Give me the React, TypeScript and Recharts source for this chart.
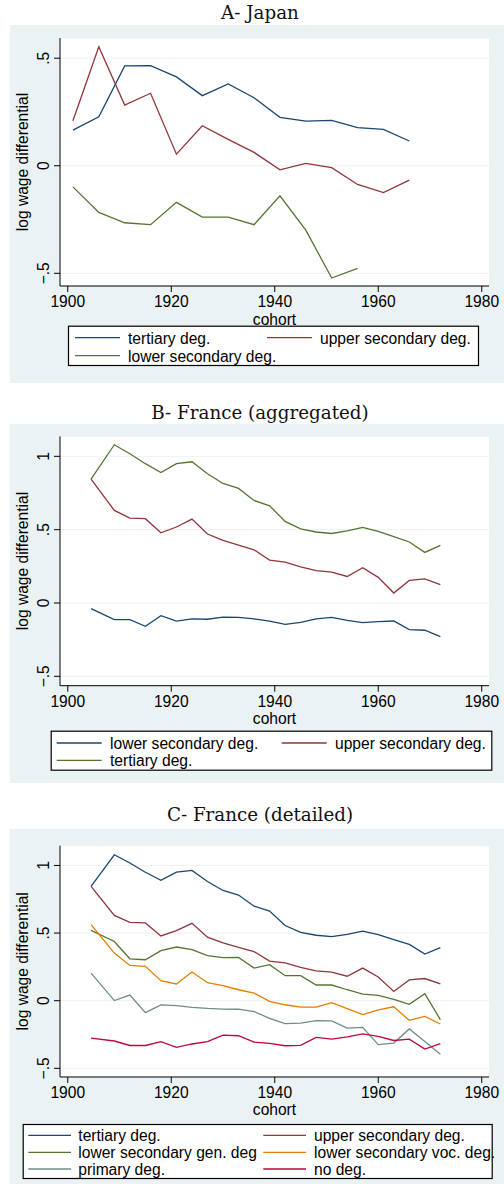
import React from 'react';
import { LineChart, Line, XAxis, YAxis, CartesianGrid, Label } from 'recharts';

const NAVY = '#1A476F';
const MAROON = '#90353B';
const FOREST = '#55752F';
const DKORANGE = '#E37E00';
const TEAL = '#6E8E84';
const CRANBERRY = '#C10534';
const BG = '#EAF2F3';

const SANS = '"Liberation Sans", Arial, Helvetica, sans-serif';
const SERIF = '"DejaVu Serif", "Liberation Serif", serif';

// ---------- data ----------
const japanCohorts = [1901, 1906, 1911, 1916, 1921, 1926, 1931, 1936, 1941, 1946, 1951, 1956, 1961, 1966];
const japanTertiary = [0.166, 0.228, 0.464, 0.465, 0.413, 0.326, 0.38, 0.316, 0.225, 0.208, 0.211, 0.177, 0.169, 0.115];
const japanUpperSec = [0.209, 0.553, 0.282, 0.337, 0.054, 0.186, 0.123, 0.062, -0.019, 0.011, -0.009, -0.087, -0.125, -0.067];
const japanLowerSec = [-0.098, -0.217, -0.265, -0.274, -0.17, -0.239, -0.239, -0.274, -0.14, -0.299, -0.522, -0.477];

const franceCohorts = [1904.5, 1909, 1912, 1915, 1918, 1921, 1924, 1927, 1930, 1933, 1936, 1939, 1942, 1945, 1948, 1951, 1954, 1957, 1960, 1963, 1966, 1969, 1972];
const franceTertiary = [0.845, 1.079, 1.018, 0.95, 0.89, 0.95, 0.963, 0.881, 0.815, 0.781, 0.699, 0.663, 0.556, 0.506, 0.484, 0.474, 0.491, 0.515, 0.488, 0.452, 0.416, 0.345, 0.393];
const franceUpperSec = [0.845, 0.631, 0.579, 0.575, 0.479, 0.518, 0.572, 0.47, 0.427, 0.395, 0.363, 0.293, 0.279, 0.247, 0.22, 0.211, 0.181, 0.241, 0.175, 0.068, 0.154, 0.164, 0.125];
const franceLowerSec = [-0.039, -0.114, -0.114, -0.159, -0.087, -0.123, -0.109, -0.111, -0.096, -0.098, -0.109, -0.123, -0.146, -0.132, -0.109, -0.098, -0.118, -0.134, -0.127, -0.123, -0.182, -0.186, -0.23];
const frLowerSecGen = [0.52, 0.438, 0.31, 0.303, 0.37, 0.397, 0.377, 0.333, 0.318, 0.32, 0.241, 0.266, 0.185, 0.185, 0.116, 0.116, 0.081, 0.049, 0.039, 0.01, -0.027, 0.052, -0.14];
const frLowerSecVoc = [0.562, 0.352, 0.261, 0.254, 0.148, 0.124, 0.212, 0.133, 0.111, 0.081, 0.057, -0.005, -0.03, -0.047, -0.047, -0.015, -0.059, -0.103, -0.067, -0.045, -0.145, -0.116, -0.172];
const frPrimary = [0.204, 0.001, 0.042, -0.088, -0.031, -0.037, -0.049, -0.057, -0.062, -0.063, -0.08, -0.13, -0.17, -0.166, -0.148, -0.149, -0.202, -0.197, -0.325, -0.313, -0.209, -0.301, -0.396];
const frNoDeg = [-0.276, -0.298, -0.331, -0.331, -0.303, -0.345, -0.32, -0.303, -0.255, -0.259, -0.306, -0.315, -0.333, -0.33, -0.271, -0.284, -0.268, -0.246, -0.264, -0.294, -0.284, -0.357, -0.318];

const xTicks = [1900, 1920, 1940, 1960, 1980];
const yTicksA = [-0.5, 0, 0.5];
const yTicksBC = [-0.5, 0, 0.5, 1];
const yTickLabels: Record<string, string> = { '-0.5': '\u2212.5', '0': '0', '0.5': '.5', '1': '1' };

const titles = ['A- Japan', 'B- France (aggregated)', 'C- France (detailed)'];
const xTitle = 'cohort';
const yTitle = 'log wage differential';

// ---------- build tables ----------
const japanData = japanCohorts.map((c, i) => ({
  cohort: c,
  tertiary: japanTertiary[i],
  upper: japanUpperSec[i],
  lower: i < japanLowerSec.length ? japanLowerSec[i] : null,
}));
const franceData = franceCohorts.map((c, i) => ({
  cohort: c,
  tertiary: franceTertiary[i],
  upper: franceUpperSec[i],
  lower: franceLowerSec[i],
  lowerGen: frLowerSecGen[i],
  lowerVoc: frLowerSecVoc[i],
  primary: frPrimary[i],
  noDeg: frNoDeg[i],
}));

type Series = { key: string; name: string; color: string };

const seriesA: Series[] = [
  { key: 'tertiary', name: 'tertiary deg.', color: NAVY },
  { key: 'upper', name: 'upper secondary deg.', color: MAROON },
  { key: 'lower', name: 'lower secondary deg.', color: FOREST },
];
const seriesB: Series[] = [
  { key: 'lower', name: 'lower secondary deg.', color: NAVY },
  { key: 'upper', name: 'upper secondary deg.', color: MAROON },
  { key: 'tertiary', name: 'tertiary deg.', color: FOREST },
];
const seriesC: Series[] = [
  { key: 'tertiary', name: 'tertiary deg.', color: NAVY },
  { key: 'upper', name: 'upper secondary deg.', color: MAROON },
  { key: 'lowerGen', name: 'lower secondary gen. deg', color: FOREST },
  { key: 'lowerVoc', name: 'lower secondary voc. deg.', color: DKORANGE },
  { key: 'primary', name: 'primary deg.', color: TEAL },
  { key: 'noDeg', name: 'no deg.', color: CRANBERRY },
];

const FS = 15.6;

const XTick = (props: any) => {
  const { x, y, payload } = props;
  return (
    <text x={x} y={y + 9.5} textAnchor="middle" dominantBaseline="central" fontFamily={SANS} fontSize={FS} fill="#000">
      {payload.value}
    </text>
  );
};

const YTick = (props: any) => {
  const { x, y, payload } = props;
  const cx = x - 10.5;
  return (
    <text x={cx} y={y} transform={`rotate(-90 ${cx} ${y})`} textAnchor="middle" dominantBaseline="central" fontFamily={SANS} fontSize={FS} fill="#000">
      {yTickLabels[String(payload.value)] ?? String(payload.value)}
    </text>
  );
};

type LegendSpec = {
  box: [number, number, number, number]; // x1,y1,x2,y2 page
  rows: number[];
  cols: { l1: number; l2: number; t: number }[];
};

type PanelProps = {
  top: number;
  height: number;
  plotTop: number;
  axisY: number;
  titleY: number;
  title: string;
  data: any[];
  series: Series[];
  yDomain: [number, number];
  yTicks: number[];
  legend: LegendSpec;
};

const PANEL_LEFT = 10;
const PANEL_W = 494;
const X_AXIS_H = 40;

function Panel(p: PanelProps) {
  const bottomOffset = p.top + p.height - p.axisY;
  const lg = p.legend;
  return (
    <>
      <div
        style={{
          position: 'absolute',
          left: 0,
          width: 504,
          top: p.titleY - 12,
          height: 24,
          lineHeight: '24px',
          textAlign: 'center',
          fontFamily: SERIF,
          fontSize: 18.3,
          color: '#111',
          paddingLeft: 16,
          boxSizing: 'border-box',
        }}
      >
        {p.title}
      </div>
      <div style={{ position: 'absolute', left: PANEL_LEFT, top: p.top, width: PANEL_W, height: p.height, background: BG }}>
        <LineChart
          width={PANEL_W}
          height={p.height}
          data={p.data}
          margin={{ top: p.plotTop - p.top, right: 15, bottom: bottomOffset - X_AXIS_H, left: 0 }}
        >
          <CartesianGrid fill="#fff" vertical={false} stroke="#EEF0F0" strokeWidth={1} />
          <XAxis
            dataKey="cohort"
            type="number"
            domain={[1898.5, 1981.4]}
            allowDataOverflow
            ticks={xTicks}
            interval={0}
            height={X_AXIS_H}
            tickSize={6}
            tickMargin={0}
            tick={<XTick />}
            axisLine={{ stroke: '#000', strokeWidth: 1 }}
            tickLine={{ stroke: '#000', strokeWidth: 1 }}
          >
            <Label
              content={(lp: any) => {
                const vb = lp.viewBox;
                return (
                  <text x={vb.x + vb.width / 2} y={vb.y + 33} textAnchor="middle" dominantBaseline="central" fontFamily={SANS} fontSize={FS} fill="#000">
                    {xTitle}
                  </text>
                );
              }}
            />
          </XAxis>
          <YAxis
            type="number"
            domain={p.yDomain}
            allowDataOverflow
            ticks={p.yTicks}
            interval={0}
            width={50}
            tickSize={6}
            tickMargin={0}
            tick={<YTick />}
            axisLine={{ stroke: '#000', strokeWidth: 1 }}
            tickLine={{ stroke: '#000', strokeWidth: 1 }}
          >
            <Label
              content={(lp: any) => {
                const vb = lp.viewBox;
                const cx = 12.5;
                const cy = vb.y + vb.height / 2;
                return (
                  <text x={cx} y={cy} transform={`rotate(-90 ${cx} ${cy})`} textAnchor="middle" dominantBaseline="central" fontFamily={SANS} fontSize={FS} fill="#000">
                    {yTitle}
                  </text>
                );
              }}
            />
          </YAxis>
          {p.series.map((s) => (
            <Line
              key={s.key}
              dataKey={s.key}
              name={s.name}
              stroke={s.color}
              strokeWidth={1.3}
              dot={false}
              activeDot={false}
              type="linear"
              isAnimationActive={false}
              connectNulls={false}
            />
          ))}
        </LineChart>
        {/* legend */}
        <svg
          width={PANEL_W}
          height={p.height}
          style={{ position: 'absolute', left: 0, top: 0, pointerEvents: 'none' }}
        >
          <g transform={`translate(${-PANEL_LEFT} ${-p.top})`}>
            <rect
              x={lg.box[0] + 0.5}
              y={lg.box[1] + 0.5}
              width={lg.box[2] - lg.box[0] - 1}
              height={lg.box[3] - lg.box[1] - 1}
              fill="#fff"
              stroke="#000"
              strokeWidth={1.2}
            />
            {p.series.map((s, i) => {
              const row = Math.floor(i / 2);
              const col = lg.cols[i % 2];
              const ry = lg.rows[row];
              return (
                <g key={s.key}>
                  <line x1={col.l1} x2={col.l2} y1={ry} y2={ry} stroke={s.color} strokeWidth={1.3} />
                  <text x={col.t} y={ry + 0.5} dominantBaseline="central" fontFamily={SANS} fontSize={FS} fill="#000">
                    {s.name}
                  </text>
                </g>
              );
            })}
          </g>
        </svg>
      </div>
    </>
  );
}

export default function App() {
  return (
    <div style={{ position: 'absolute', left: 0, top: 0, width: 504, height: 1184, background: '#fff', overflow: 'hidden' }}>
      <Panel
        top={25}
        height={358}
        plotTop={38}
        axisY={286}
        titleY={13}
        title={titles[0]}
        data={japanData}
        series={seriesA}
        yDomain={[-0.559, 0.594]}
        yTicks={yTicksA}
        legend={{
          box: [68, 325.7, 479, 366],
          rows: [337.7, 355.7],
          cols: [
            { l1: 75, l2: 120, t: 128 },
            { l1: 267, l2: 312, t: 320 },
          ],
        }}
      />
      <Panel
        top={424.3}
        height={358.4}
        plotTop={436.7}
        axisY={686}
        titleY={412.7}
        title={titles[1]}
        data={franceData}
        series={seriesB}
        yDomain={[-0.564, 1.136]}
        yTicks={yTicksBC}
        legend={{
          box: [50.7, 731, 492.3, 771],
          rows: [743.3, 760.7],
          cols: [
            { l1: 56.7, l2: 101.7, t: 110 },
            { l1: 281.7, l2: 326.7, t: 335 },
          ],
        }}
      />
      <Panel
        top={829.3}
        height={354.7}
        plotTop={846}
        axisY={1077.3}
        titleY={815}
        title={titles[2]}
        data={franceData}
        series={seriesC}
        yDomain={[-0.564, 1.146]}
        yTicks={yTicksBC}
        legend={{
          box: [22.7, 1124.3, 492.7, 1179.3],
          rows: [1135.7, 1152.7, 1169.3],
          cols: [
            { l1: 28.3, l2: 71, t: 78.3 },
            { l1: 263.3, l2: 306, t: 314 },
          ],
        }}
      />
    </div>
  );
}
